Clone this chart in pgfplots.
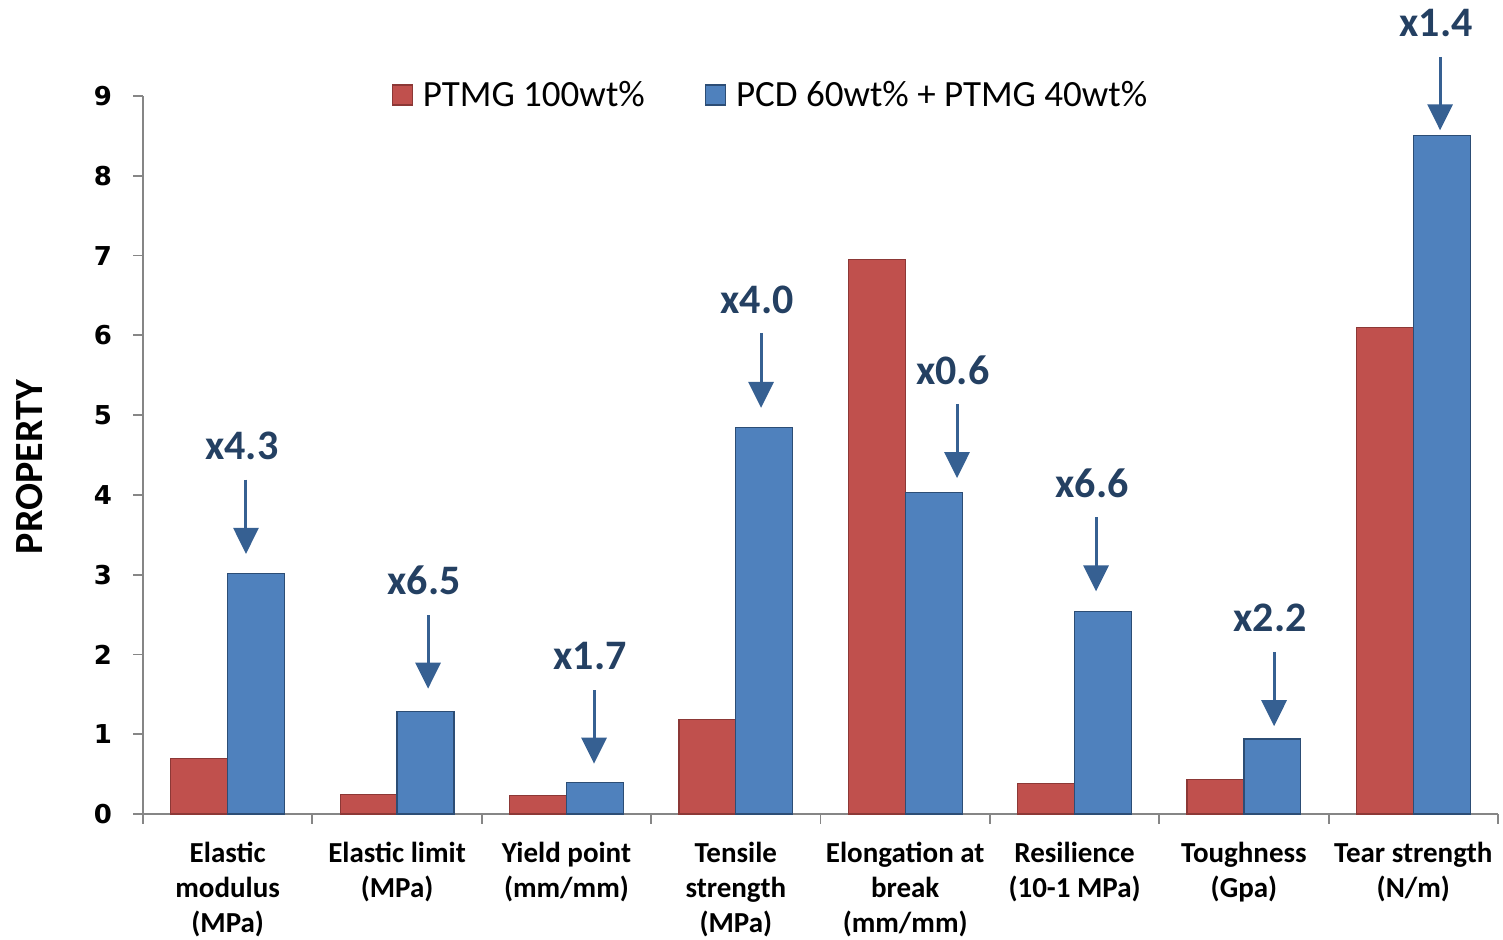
\documentclass[border=0pt]{standalone}
\usepackage{pgfplots}
\pgfplotsset{compat=1.18}
\usepackage{fontspec}
\setmainfont{Carlito}
\newfontfamily\dejavu{DejaVu Sans}
\usetikzlibrary{arrows.meta}
\definecolor{cred}{HTML}{C0504D}
\definecolor{credd}{HTML}{8C3836}
\definecolor{cblue}{HTML}{4F81BD}
\definecolor{cblued}{HTML}{2C4D75}
\definecolor{anntext}{RGB}{36,64,98}
\definecolor{annarrow}{RGB}{54,96,146}
\definecolor{axgray}{HTML}{868686}
\begin{document}
\begin{tikzpicture}
\begin{axis}[
  scale only axis, width=677.5pt, height=359pt,
  xmin=-0.5, xmax=7.5, ymin=0, ymax=9,
  ybar=0pt, bar width=0.336,
  axis lines=left, axis line style={-, draw=axgray, line width=0.9pt},
  clip=false,
  tick align=outside,
  major tick length=5pt, minor tick length=5pt,
  xtick={0,...,7},
  major x tick style={draw=none},
  minor xtick={-0.5,0.5,...,7.5},
  minor x tick style={draw=axgray, line width=0.9pt},
  ytick={0,...,9},
  y tick style={draw=axgray, line width=0.9pt},
  xticklabels={{Elastic\\modulus\\(MPa)},{Elastic limit\\(MPa)},{Yield point\\(mm/mm)},{Tensile\\strength\\(MPa)},{Elongation at\\break\\(mm/mm)},{Resilience\\(10-1 MPa)},{Toughness\\(Gpa)},{Tear strength\\(N/m)}},
  xticklabel style={font=\bfseries\fontsize{14.5}{17.5}\selectfont, align=center, anchor=north, yshift=-5.5pt},
  /pgf/number format/assume math mode=true,
  yticklabel style={font=\dejavu\bfseries\fontsize{13}{15}\selectfont, anchor=east, xshift=-7pt},
  ylabel={PROPERTY},
  ylabel style={font=\bfseries\fontsize{20}{24}\selectfont, at={(rel axis cs:-0.0834,0.483)}, anchor=center},
  legend style={at={(rel axis cs:0.4638,1.0014)}, anchor=center, draw=none, fill=none,
    legend columns=2, font=\fontsize{18.5}{21}\selectfont,
    /tikz/every odd column/.append style={column sep=3pt},
    /tikz/every even column/.append style={column sep=28pt}},
  legend image code/.code={\draw[#1] (0pt,-5pt) rectangle (10pt,5pt);},
]
\addplot[fill=cred, draw=credd, line width=0.6pt] coordinates {(0,0.70) (1,0.24) (2,0.23) (3,1.18) (4,6.95) (5,0.38) (6,0.43) (7,6.10)};
\addplot[fill=cblue, draw=cblued, line width=0.6pt] coordinates {(0,3.01) (1,1.28) (2,0.39) (3,4.84) (4,4.03) (5,2.54) (6,0.94) (7,8.50)};
\legend{PTMG 100wt\%, PCD 60wt\% + PTMG 40wt\%}
\begin{scope}[annarrow, line width=1.5pt]
\draw[-{Triangle[width=12.5pt,length=13pt]}] (axis cs:0.108,4.19) -- (axis cs:0.108,3.26);
\draw[-{Triangle[width=12.5pt,length=13pt]}] (axis cs:1.183,2.49) -- (axis cs:1.183,1.57);
\draw[-{Triangle[width=12.5pt,length=13pt]}] (axis cs:2.163,1.55) -- (axis cs:2.163,0.63);
\draw[-{Triangle[width=12.5pt,length=13pt]}] (axis cs:3.149,6.03) -- (axis cs:3.149,5.09);
\draw[-{Triangle[width=12.5pt,length=13pt]}] (axis cs:4.306,5.14) -- (axis cs:4.306,4.21);
\draw[-{Triangle[width=12.5pt,length=13pt]}] (axis cs:5.127,3.72) -- (axis cs:5.127,2.79);
\draw[-{Triangle[width=12.5pt,length=13pt]}] (axis cs:6.178,2.03) -- (axis cs:6.178,1.10);
\draw[-{Triangle[width=12.5pt,length=13pt]}] (axis cs:7.158,9.49) -- (axis cs:7.158,8.57);
\end{scope}
\begin{scope}[every node/.style={font=\bfseries\fontsize{21}{24}\selectfont, text=anntext}]
\node at (axis cs:0.084,4.62) {x4.3};
\node at (axis cs:1.159,2.93) {x6.5};
\node at (axis cs:2.139,1.98) {x1.7};
\node at (axis cs:3.125,6.45) {x4.0};
\node at (axis cs:4.282,5.56) {x0.6};
\node at (axis cs:5.103,4.15) {x6.6};
\node at (axis cs:6.154,2.46) {x2.2};
\node at (axis cs:7.134,9.92) {x1.4};
\end{scope}
\coordinate (bbsw) at (rel axis cs:-0.10554,-0.17549);
\coordinate (bbne) at (rel axis cs:1.00369,1.13370);
\end{axis}
\pgfresetboundingbox
\path[use as bounding box] (bbsw) rectangle (bbne);
\end{tikzpicture}
\end{document}
